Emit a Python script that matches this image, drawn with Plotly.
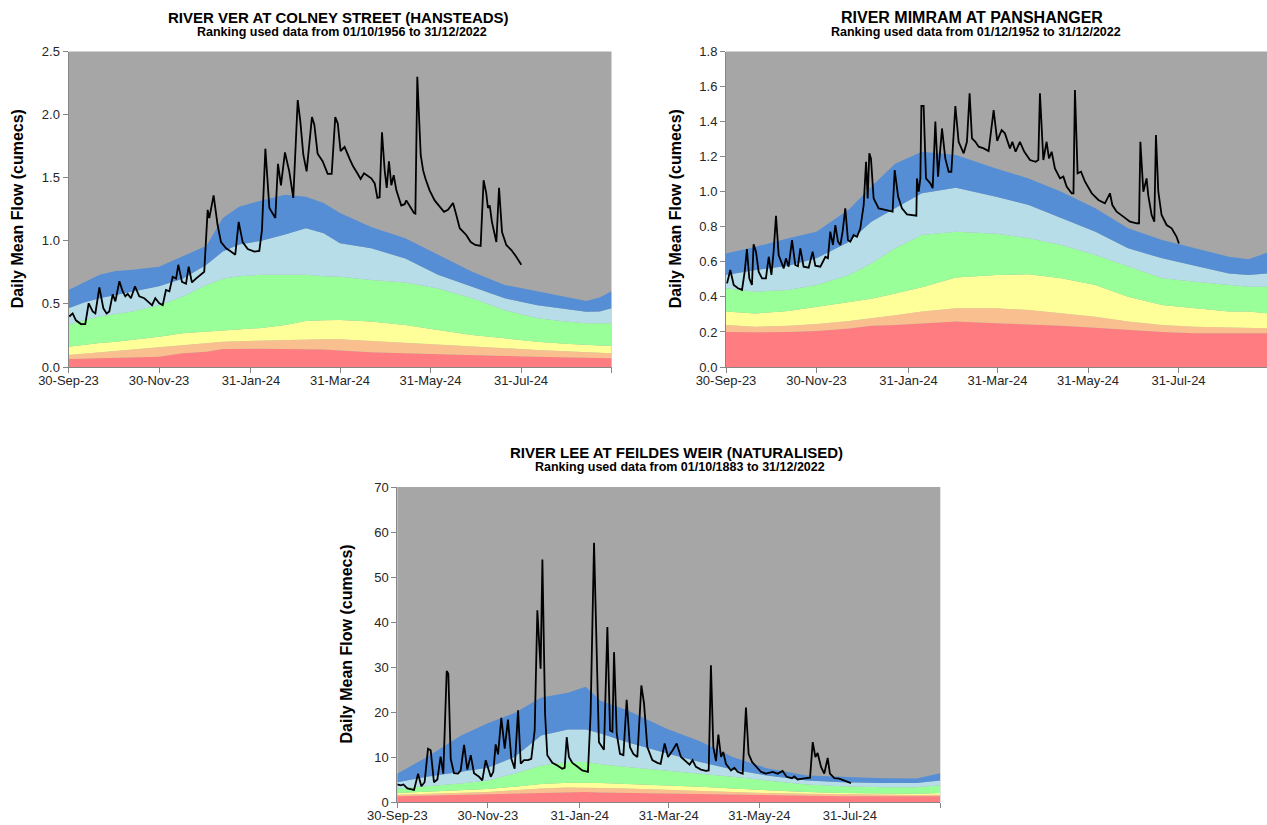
import pandas as pd
import plotly.graph_objects as go

START = pd.Timestamp("2023-09-30")

# ---------------- DATA ----------------
tick_dates = ["2023-09-30", "2023-11-30", "2024-01-31", "2024-03-31", "2024-05-31", "2024-07-31", "2024-09-30"]
tick_labels = ["30-Sep-23", "30-Nov-23", "31-Jan-24", "31-Mar-24", "31-May-24", "31-Jul-24", ""]

# River Ver at Colney Street (days after 30-Sep-23)
ver_flow_day = [0.5, 2.8, 5.0, 8.4, 11.3, 13.6, 16.3, 18.1, 20.8, 23.5,
                25.7, 27.5, 29.8, 31.6, 34.3, 36.5, 38.3, 39.9, 42.1, 44.8,
                47.7, 51.1, 53.4, 56.3, 58.5, 61.2, 63.5, 65.7, 68.0, 70.2,
                72.5, 74.0, 76.5, 79.2, 81.0, 83.2, 85.9, 89.3, 91.5, 93.8,
                94.9, 97.8, 100.5, 102.8, 106.2, 109.5, 112.4, 114.7, 117.4, 120.8,
                125.3, 128.6, 130.4, 132.7, 135.4, 139.4, 141.2, 143.2, 145.9, 148.8,
                151.5, 154.5, 156.3, 158.3, 160.5, 164.1, 165.7, 167.9, 171.3, 174.7,
                177.4, 179.8, 181.5, 183.4, 186.1, 189.5, 191.8, 194.7, 196.9, 199.2,
                201.9, 204.1, 206.4, 208.2, 209.7, 211.3, 213.1, 214.5, 216.0, 217.6,
                219.2, 221.0, 224.3, 226.6, 227.7, 230.6, 232.9, 233.8, 235.1, 237.4,
                239.0, 240.5, 243.4, 246.8, 250.2, 253.1, 255.8, 259.2, 261.4, 263.7,
                268.1, 271.1, 274.2, 277.8, 279.8, 281.6, 282.7, 283.9, 285.4, 288.4,
                290.2, 292.2, 295.1, 298.5, 301.8, 305.2]
ver_flow = [0.40, 0.425, 0.37, 0.34, 0.34, 0.505, 0.44, 0.425, 0.63, 0.465,
            0.425, 0.44, 0.575, 0.52, 0.68, 0.60, 0.56, 0.58, 0.545, 0.64,
            0.56, 0.545, 0.52, 0.49, 0.545, 0.505, 0.49, 0.61, 0.60, 0.715,
            0.70, 0.81, 0.675, 0.66, 0.795, 0.67, 0.70, 0.73, 0.755, 1.245,
            1.18, 1.36, 1.125, 0.99, 0.94, 0.915, 0.89, 1.15, 0.99, 0.935,
            0.915, 0.92, 1.085, 1.73, 1.26, 1.18, 1.61, 1.44, 1.70, 1.55,
            1.34, 2.115, 1.94, 1.68, 1.55, 1.98, 1.92, 1.69, 1.63, 1.53,
            1.53, 1.98, 1.93, 1.71, 1.745, 1.65, 1.59, 1.535, 1.49, 1.535,
            1.51, 1.495, 1.455, 1.34, 1.345, 1.86, 1.56, 1.42, 1.63, 1.44,
            1.52, 1.40, 1.28, 1.29, 1.32, 1.26, 1.22, 1.215, 2.30, 1.68,
            1.56, 1.495, 1.40, 1.32, 1.27, 1.23, 1.245, 1.30, 1.205, 1.10,
            1.046, 0.99, 0.967, 0.96, 1.48, 1.376, 1.26, 1.28, 1.15, 0.99,
            1.42, 1.07, 0.967, 0.927, 0.874, 0.81]
ver_band_day = [0, 10, 21, 32, 43, 61, 77, 93, 104, 115, 130, 146, 160, 172, 183,
                204, 227, 249, 272, 294, 316, 335, 349, 358, 366]
ver_notably_low = [0.063, 0.066, 0.07, 0.072, 0.074, 0.082, 0.108, 0.12, 0.143, 0.145, 0.145, 0.143, 0.143,
                   0.138, 0.13, 0.116, 0.108, 0.10, 0.095, 0.087, 0.082, 0.078, 0.074, 0.07, 0.069]
ver_below = [0.095, 0.105, 0.116, 0.125, 0.135, 0.153, 0.174, 0.188, 0.20, 0.205, 0.21, 0.214, 0.216,
             0.22, 0.22, 0.206, 0.193, 0.18, 0.16, 0.148, 0.135, 0.125, 0.116, 0.11, 0.108]
ver_below_normal = [0.16, 0.175, 0.19, 0.20, 0.214, 0.24, 0.267, 0.28, 0.293, 0.30, 0.31, 0.333, 0.365,
                    0.37, 0.372, 0.36, 0.333, 0.293, 0.254, 0.227, 0.20, 0.185, 0.174, 0.17, 0.169]
ver_normal = [0.333, 0.37, 0.40, 0.42, 0.44, 0.49, 0.557, 0.65, 0.70, 0.72, 0.73, 0.73, 0.73,
              0.72, 0.716, 0.69, 0.67, 0.623, 0.544, 0.45, 0.386, 0.36, 0.346, 0.346, 0.346]
ver_above_normal = [0.465, 0.51, 0.545, 0.57, 0.60, 0.64, 0.70, 0.81, 0.915, 0.97, 1.0, 1.05, 1.10,
                    1.06, 0.98, 0.94, 0.86, 0.73, 0.636, 0.544, 0.49, 0.46, 0.438, 0.44, 0.465]
ver_notably_high = [0.61, 0.67, 0.73, 0.76, 0.77, 0.795, 0.875, 0.96, 1.18, 1.27, 1.32, 1.365, 1.35,
                    1.30, 1.22, 1.11, 1.02, 0.89, 0.755, 0.65, 0.60, 0.56, 0.523, 0.55, 0.60]

# River Mimram at Panshanger
mim_flow_day = [0.7, 2.9, 5.2, 8.1, 10.8, 12.6, 14.1, 15.7, 17.5, 18.6,
                20.2, 22.0, 24.3, 26.9, 28.8, 30.6, 32.1, 33.7, 35.5, 37.3,
                38.9, 40.4, 42.2, 44.5, 46.7, 48.5, 50.1, 52.3, 55.7, 58.4,
                60.2, 63.6, 67.0, 68.7, 70.3, 72.1, 73.7, 75.5, 77.1, 78.6,
                80.4, 82.2, 83.8, 86.0, 88.3, 90.5, 92.8, 94.4, 95.5, 96.6,
                97.7, 99.5, 102.9, 107.4, 110.8, 112.3, 113.7, 116.0, 118.6, 122.0,
                128.3, 128.7, 129.9, 131.0, 131.7, 133.2, 134.8, 137.7, 139.3, 141.1,
                142.9, 145.6, 147.8, 150.1, 151.9, 154.6, 156.8, 160.2, 162.4, 162.9,
                164.2, 165.8, 168.1, 170.3, 173.7, 177.0, 178.8, 180.4, 182.8, 185.8,
                188.0, 191.4, 193.0, 195.2, 198.1, 201.1, 204.9, 208.7, 210.5, 211.6,
                213.9, 216.1, 217.7, 219.5, 221.7, 225.1, 227.4, 229.6, 233.0, 234.2,
                235.2, 237.0, 239.3, 242.0, 246.5, 251.0, 255.4, 258.8, 260.4, 263.3,
                267.8, 272.3, 276.8, 278.4, 279.3, 281.3, 283.5, 284.6, 286.9, 288.7,
                289.8, 291.4, 293.6, 297.0, 300.4, 303.7, 305.3]
mim_flow = [0.477, 0.553, 0.468, 0.449, 0.44, 0.544, 0.673, 0.506, 0.468, 0.70,
            0.658, 0.544, 0.506, 0.506, 0.629, 0.525, 0.658, 0.863, 0.639, 0.60,
            0.563, 0.62, 0.572, 0.724, 0.582, 0.575, 0.677, 0.572, 0.567, 0.658,
            0.578, 0.572, 0.629, 0.62, 0.772, 0.696, 0.81, 0.715, 0.696, 0.772,
            0.905, 0.724, 0.715, 0.753, 0.743, 0.79, 0.924, 1.171, 0.962, 1.219,
            1.19, 0.962, 0.905, 0.896, 0.886, 0.886, 1.124, 0.972, 0.905, 0.871,
            0.863, 1.076, 1.0, 1.076, 1.489, 1.489, 1.076, 1.048, 1.02, 1.40,
            1.086, 1.361, 1.19, 1.114, 1.114, 1.489, 1.285, 1.219, 1.285, 1.361,
            1.561, 1.304, 1.285, 1.257, 1.247, 1.232, 1.352, 1.466, 1.29, 1.352,
            1.333, 1.247, 1.285, 1.228, 1.285, 1.228, 1.181, 1.171, 1.181, 1.561,
            1.181, 1.285, 1.19, 1.228, 1.133, 1.076, 1.086, 1.029, 0.991, 0.991,
            1.58, 1.105, 1.114, 1.057, 0.991, 0.953, 0.934, 0.991, 0.924, 0.886,
            0.858, 0.829, 0.82, 0.82, 1.285, 1.0, 1.076, 0.981, 0.867, 0.829,
            1.323, 1.0, 0.867, 0.81, 0.791, 0.743, 0.705]
mim_band_day = [0, 20, 42, 61, 83, 98, 114, 132, 155, 182, 204, 226, 249, 271, 294, 316, 339, 352, 366]
mim_notably_low = [0.20, 0.198, 0.20, 0.205, 0.22, 0.236, 0.24, 0.249, 0.259, 0.249,
                   0.243, 0.236, 0.224, 0.211, 0.20, 0.192, 0.192, 0.192, 0.192]
mim_below = [0.24, 0.23, 0.235, 0.245, 0.262, 0.28, 0.295, 0.316, 0.335, 0.335,
             0.325, 0.306, 0.287, 0.259, 0.24, 0.23, 0.224, 0.221, 0.221]
mim_below_normal = [0.316, 0.305, 0.32, 0.345, 0.37, 0.39, 0.42, 0.455, 0.51, 0.525,
                    0.529, 0.506, 0.468, 0.401, 0.354, 0.335, 0.316, 0.316, 0.306]
mim_normal = [0.45, 0.43, 0.44, 0.468, 0.525, 0.591, 0.677, 0.753, 0.772, 0.76,
              0.734, 0.696, 0.639, 0.572, 0.506, 0.487, 0.468, 0.458, 0.458]
mim_above_normal = [0.525, 0.553, 0.578, 0.62, 0.715, 0.829, 0.905, 0.991, 1.023, 0.972,
                    0.924, 0.848, 0.772, 0.677, 0.62, 0.578, 0.534, 0.525, 0.534]
mim_notably_high = [0.648, 0.686, 0.734, 0.772, 0.90, 1.03, 1.16, 1.228, 1.209, 1.133,
                    1.076, 1.0, 0.905, 0.791, 0.724, 0.677, 0.629, 0.615, 0.655]

# River Lee at Feildes Weir (naturalised)
lee_flow_day = [0, 2.3, 4.1, 6.8, 11.3, 14.0, 16.2, 18.4, 20.7, 22.5,
                24.7, 27.0, 29.2, 31.0, 33.3, 34.4, 36.0, 38.2, 40.9, 42.7,
                45.0, 47.2, 49.5, 51.7, 55.1, 57.3, 59.6, 63.0, 64.7, 66.3,
                67.9, 70.1, 72.4, 74.6, 76.9, 79.1, 81.4, 83.2, 85.4, 88.1,
                90.3, 92.6, 94.4, 96.6, 97.8, 99.6, 101.1, 104.5, 107.9, 111.2,
                112.8, 114.2, 115.7, 118.0, 121.3, 124.7, 128.5, 130.3, 132.6, 134.4,
                135.9, 139.3, 141.6, 143.4, 145.0, 146.1, 147.9, 150.1, 152.4, 154.6,
                156.8, 159.1, 161.8, 164.5, 166.3, 168.5, 171.9, 175.3, 177.5, 180.2,
                182.5, 185.6, 188.3, 191.2, 194.6, 197.0, 199.0, 201.3, 204.7, 208.0,
                209.9, 211.4, 213.0, 214.8, 216.4, 218.2, 219.7, 221.5, 224.9, 227.2,
                229.4, 232.8, 235.0, 236.8, 239.1, 241.8, 245.1, 248.5, 253.0, 256.4,
                259.7, 262.4, 266.0, 267.6, 269.8, 273.2, 278.2, 280.0, 281.8, 283.3,
                285.6, 287.8, 290.1, 291.6, 294.6, 297.9, 301.3, 305.8]
lee_flow = [3.9, 3.7, 3.9, 3.0, 2.7, 6.3, 3.5, 4.4, 11.85, 11.5,
            4.4, 5.0, 10.1, 6.3, 29.1, 28.5, 9.6, 6.4, 6.3, 7.0,
            12.7, 7.2, 10.4, 6.4, 5.6, 4.8, 9.3, 5.6, 6.7, 12.8,
            10.6, 18.7, 11.85, 18.3, 9.6, 7.4, 20.4, 8.5, 9.3, 9.3,
            9.6, 15.9, 42.6, 29.6, 53.9, 19.6, 10.4, 8.7, 8.1, 7.4,
            7.6, 14.4, 10.0, 8.7, 7.9, 7.0, 6.7, 19.6, 57.6, 35.9,
            13.3, 11.6, 38.9, 15.9, 15.6, 33.3, 15.2, 10.7, 10.4, 22.7,
            12.2, 10.7, 10.0, 25.9, 21.9, 12.2, 9.3, 8.7, 8.5, 13.0,
            10.0, 11.5, 13.0, 10.0, 8.9, 8.3, 9.3, 7.8, 7.2, 6.9,
            7.0, 30.4, 12.2, 9.1, 15.0, 10.0, 11.1, 8.5, 7.0, 7.6,
            6.7, 6.3, 21.0, 10.7, 8.9, 7.8, 6.7, 6.3, 6.7, 6.3,
            6.9, 5.6, 5.3, 5.7, 5.0, 5.2, 5.4, 13.3, 10.0, 10.9,
            7.8, 6.3, 9.8, 6.3, 5.3, 5.2, 4.8, 4.2]
lee_band_day = [0, 20, 43, 61, 79, 97, 115, 127, 137, 155, 182, 204, 226, 249, 276, 300, 327, 350, 366]
lee_notably_low = [1.3, 1.45, 1.55, 1.65, 1.8, 2.0, 2.15, 2.2, 2.1, 2.0, 1.85, 1.7, 1.55, 1.45, 1.35, 1.3, 1.26, 1.26, 1.3]
lee_below = [1.6, 1.85, 2.0, 2.2, 2.6, 3.0, 3.2, 3.2, 3.1, 3.0, 2.7, 2.6, 2.2, 2.0, 1.85, 1.7, 1.55, 1.55, 1.6]
lee_below_normal = [2.0, 2.3, 2.6, 2.9, 3.4, 4.0, 4.3, 4.3, 4.2, 4.0, 3.7, 3.4, 3.0, 2.6, 2.2, 2.0, 1.85, 1.85, 2.0]
lee_normal = [3.0, 3.5, 4.1, 4.8, 6.3, 8.1, 8.9, 8.9, 8.4, 7.8, 7.0, 6.3, 5.6, 4.8, 3.9, 3.5, 3.3, 3.3, 3.7]
lee_above_normal = [4.4, 5.6, 6.7, 7.6, 10.0, 14.8, 16.1, 16.1, 15.2, 13.3, 10.8, 8.9, 7.2, 5.9, 4.8, 4.4, 4.2, 4.2, 4.8]
lee_notably_high = [6.3, 10.0, 14.8, 17.5, 19.8, 23.2, 24.3, 25.6, 22.5, 20.4, 16.2, 13.5, 10.0, 7.5, 5.9, 5.6, 5.3, 5.2, 6.4]

titles = ["RIVER VER AT COLNEY STREET (HANSTEADS)",
          "RIVER MIMRAM AT PANSHANGER",
          "RIVER LEE AT FEILDES WEIR (NATURALISED)"]
subtitles = ["Ranking used data from 01/10/1956 to 31/12/2022",
             "Ranking used data from 01/12/1952 to 31/12/2022",
             "Ranking used data from 01/10/1883 to 31/12/2022"]
y_title = "Daily Mean Flow (cumecs)"

# ---------------- STYLE ----------------
band_colors = ["#FF7C80", "#FABF8F", "#FFFF99", "#99FF99", "#B7DEE8", "#558ED5"]
bg_gray = "#A6A6A6"
FONT = "Liberation Sans, Arial, sans-serif"
TXT = "#262626"
AX = "#868686"

FIG_W, FIG_H = 1267, 825


def fx(px):
    return px / FIG_W


def fy(py):
    return 1 - py / FIG_H


def to_dates(days):
    return START + pd.to_timedelta(pd.Series(days, dtype=float), unit="D")


charts = [
    dict(band_day=ver_band_day,
         bands=[ver_notably_low, ver_below, ver_below_normal, ver_normal, ver_above_normal, ver_notably_high],
         flow_day=ver_flow_day, flow=ver_flow, box=(68.5, 611.5, 51.5, 367), xr=366,
         yr=[0, 2.5], dtick=0.5, fmt=".1f", title_xy=(338, 17), ytitle_x=17),
    dict(band_day=mim_band_day,
         bands=[mim_notably_low, mim_below, mim_below_normal, mim_normal, mim_above_normal, mim_notably_high],
         flow_day=mim_flow_day, flow=mim_flow, box=(726, 1267, 51.5, 367), xr=(1267 - 726) / 1.4836,
         yr=[0, 1.8], dtick=0.2, fmt=".1f", title_xy=(972, 17), ytitle_x=675),
    dict(band_day=lee_band_day,
         bands=[lee_notably_low, lee_below, lee_below_normal, lee_normal, lee_above_normal, lee_notably_high],
         flow_day=lee_flow_day, flow=lee_flow, box=(397.3, 940.3, 487, 802), xr=366,
         yr=[0, 70], dtick=10, fmt="d", title_xy=(676, 452), ytitle_x=346),
]
title_sizes = [15, 16, 15]

fig = go.Figure()
annotations = []
for i, c in enumerate(charts):
    sfx = "" if i == 0 else str(i + 1)
    xa, ya = "x" + sfx, "y" + sfx
    bx = to_dates(c["band_day"])
    for k, (vals, col) in enumerate(zip(c["bands"], band_colors)):
        fig.add_trace(go.Scatter(x=bx, y=vals, mode="lines", line=dict(width=0),
                                 fill="tozeroy" if k == 0 else "tonexty", fillcolor=col,
                                 hoverinfo="skip", showlegend=False, xaxis=xa, yaxis=ya))
    fig.add_trace(go.Scatter(x=to_dates(c["flow_day"]), y=c["flow"], mode="lines",
                             line=dict(color="black", width=1.8), showlegend=False,
                             xaxis=xa, yaxis=ya))
    x0, x1, y0, y1 = c["box"]
    xend = START + pd.Timedelta(days=c["xr"])
    fig.layout["xaxis" + sfx] = dict(
        domain=[fx(x0), fx(x1)], anchor=ya, type="date",
        range=[START, xend], tickmode="array", tickvals=tick_dates, ticktext=tick_labels,
        ticks="outside", ticklen=5, tickcolor=AX, showline=True, linecolor=AX, linewidth=1,
        showgrid=False, zeroline=False, tickangle=0, ticklabelstandoff=-4,
        tickfont=dict(family=FONT, size=13, color=TXT))
    fig.layout["yaxis" + sfx] = dict(
        domain=[fy(y1), fy(y0)], anchor=xa, range=c["yr"], dtick=c["dtick"], tick0=0,
        tickformat=c["fmt"], ticks="outside", ticklen=5, tickcolor=AX, showline=True,
        linecolor=AX, linewidth=1, showgrid=False, zeroline=False,
        tickfont=dict(family=FONT, size=13, color=TXT))
    tx, ty = c["title_xy"]
    annotations.append(dict(x=fx(tx), y=fy(ty), xref="paper", yref="paper", showarrow=False,
                            xanchor="center", yanchor="middle", text="<b>" + titles[i] + "</b>",
                            font=dict(family=FONT, size=title_sizes[i], color="#000")))
    annotations.append(dict(x=fx(tx + 4), y=fy(ty + 14.5), xref="paper", yref="paper", showarrow=False,
                            xanchor="center", yanchor="middle", text="<b>" + subtitles[i] + "</b>",
                            font=dict(family=FONT, size=12.5, color="#000")))
    annotations.append(dict(x=fx(c["ytitle_x"]), y=fy((y0 + y1) / 2), xref="paper", yref="paper",
                            showarrow=False, xanchor="center", yanchor="middle", textangle=-90,
                            text="<b>" + y_title + "</b>",
                            font=dict(family=FONT, size=16, color="#000")))

fig.update_layout(
    width=FIG_W, height=FIG_H, template="none",
    margin=dict(l=0, r=0, t=0, b=0, autoexpand=False),
    paper_bgcolor="white", plot_bgcolor=bg_gray,
    annotations=annotations, showlegend=False,
)

fig.write_html("out.html", config={"displayModeBar": False},
               post_script="document.body.style.margin='0';document.body.style.overflow='hidden';")
